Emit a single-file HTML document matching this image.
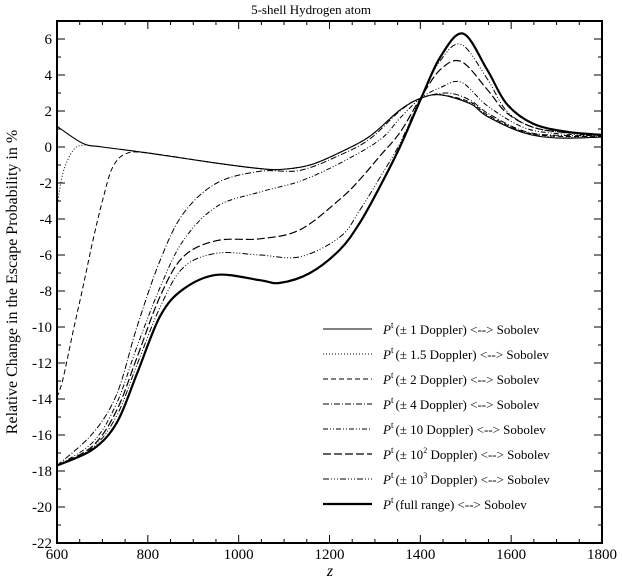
<!DOCTYPE html>
<html><head><meta charset="utf-8"><style>
body{margin:0;background:#fff}
svg{display:block;font-family:"Liberation Serif",serif}
</style></head><body>
<svg id="c" width="622" height="580"></svg>
<script>
const xTicks=[600,800,1000,1200,1400,1600,1800];
const yTicks=[-22,-20,-18,-16,-14,-12,-10,-8,-6,-4,-2,0,2,4,6];
const z1=[600,657,700,805,952,1047,1091,1157,1223,1289,1355,1400,1444,1510,1547,1626,1700,1800];
const s1=[1.15,0.2,0.0,-0.35,-0.9,-1.2,-1.25,-1.0,-0.3,0.6,2.05,2.7,2.9,2.4,1.7,0.8,0.5,0.55];
const z2=[600,613,635,657,700,805,952,1047,1091,1157,1223,1289,1355,1400,1444,1510,1547,1626,1700,1800];
const s2=[-3.3,-1.45,-0.2,0.1,0.0,-0.35,-0.9,-1.2,-1.25,-1.0,-0.3,0.6,2.05,2.7,2.9,2.45,1.75,0.85,0.55,0.6];
const z3=[600,613,635,657,679,701,723,754,805,952,1047,1091,1157,1223,1289,1355,1400,1444,1510,1547,1626,1700,1800];
const s3=[-13.9,-12.9,-10.3,-7.8,-5.2,-2.9,-1.1,-0.35,-0.35,-0.9,-1.2,-1.25,-1.0,-0.3,0.6,2.05,2.7,2.9,2.5,1.8,0.85,0.6,0.6];
const z4=[600,679,732,776,827,878,952,1047,1135,1223,1289,1355,1400,1460,1510,1547,1626,1700,1800];
const s4=[-17.7,-15.9,-13.7,-10,-6.3,-3.7,-2.0,-1.35,-1.3,-0.45,0.45,2.0,2.7,3.0,2.6,1.9,0.9,0.65,0.65];
const z5=[600,679,732,776,827,878,952,1047,1135,1223,1311,1355,1400,1444,1490,1547,1626,1700,1800];
const s5=[-17.7,-16.4,-14.2,-11.1,-7.8,-5.2,-3.3,-2.5,-1.9,-0.9,0.4,1.6,2.7,3.3,3.6,2.3,1.1,0.75,0.65];
const z6=[600,679,732,776,827,878,952,1047,1135,1223,1267,1311,1355,1400,1444,1490,1547,1590,1648,1720,1800];
const s6=[-17.7,-16.6,-14.6,-11.7,-8.3,-6.1,-5.2,-5.1,-4.6,-2.9,-1.8,-0.5,0.8,2.7,4.3,4.75,3.2,1.9,1.1,0.8,0.7];
const z7=[600,679,732,776,827,878,952,1047,1135,1223,1267,1311,1355,1400,1444,1490,1547,1590,1648,1720,1800];
const s7=[-17.7,-16.7,-14.9,-12.1,-8.9,-6.7,-5.9,-6.0,-6.1,-5.0,-3.5,-1.7,0.2,2.7,4.8,5.7,3.8,2.0,1.1,0.8,0.7];
const z8=[600,679,732,776,827,878,952,1047,1091,1157,1223,1267,1311,1355,1400,1444,1494,1547,1590,1648,1722,1800];
const s8=[-17.7,-16.8,-15.3,-12.6,-9.4,-7.9,-7.1,-7.4,-7.55,-7.0,-5.7,-4.2,-2.2,0.0,2.6,5.0,6.3,4.3,2.4,1.3,0.85,0.67];
const labels=["(\u00b1 1 Doppler) <--> Sobolev","(\u00b1 1.5 Doppler) <--> Sobolev","(\u00b1 2 Doppler) <--> Sobolev","(\u00b1 4 Doppler) <--> Sobolev","(\u00b1 10 Doppler) <--> Sobolev","(\u00b1 10^2 Doppler) <--> Sobolev","(\u00b1 10^3 Doppler) <--> Sobolev","(full range) <--> Sobolev"];
const L=57,R=602,T=21,B=543;
const X=v=>L+(v-600)/1200*(R-L);
const Y=v=>T+(7-v)/29*(B-T);
const NS="http://www.w3.org/2000/svg";
const svg=document.getElementById('c');
function mk(t,a,p){const e=document.createElementNS(NS,t);for(const k in a)e.setAttribute(k,a[k]);(p||svg).appendChild(e);return e;}
const styles=[
 {w:1.1,d:""},{w:1,d:"1,2"},{w:1,d:"5,3"},{w:1,d:"6,2,1,2"},{w:1,d:"5,2,1,2,1,2"},{w:1.2,d:"8,3"},{w:1,d:"6,2,1,2,1,2,1,2"},{w:2.2,d:""}];
const series=[[z1,s1],[z2,s2],[z3,s3],[z4,s4],[z5,s5],[z6,s6],[z7,s7],[z8,s8]];
function pathD(xs,ys){const p=xs.map((x,i)=>[X(x),Y(ys[i])]);let d="M"+p[0][0]+","+p[0][1];
 for(let i=0;i<p.length-1;i++){const p0=p[i-1]||p[i],p1=p[i],p2=p[i+1],p3=p[i+2]||p2;
  const c1=[p1[0]+(p2[0]-p0[0])/6,p1[1]+(p2[1]-p0[1])/6],c2=[p2[0]-(p3[0]-p1[0])/6,p2[1]-(p3[1]-p1[1])/6];
  d+=" C"+c1+" "+c2+" "+p2;}return d;}
const ti=mk('text',{x:311,y:14,'text-anchor':'middle','font-size':13});ti.textContent="5-shell Hydrogen atom";


const g=mk('g',{});


series.forEach((s,i)=>{const p=mk('path',{d:pathD(s[0],s[1]),fill:'none',stroke:'#000','stroke-width':styles[i].w,'stroke-dasharray':styles[i].d},g);
 
 });
const fr=mk('rect',{x:L,y:T,width:R-L,height:B-T,fill:'none',stroke:'#000','stroke-width':2});


for(let v=600;v<=1800;v+=50){const maj=v%200===0,len=maj?8:4,x=X(v);
 mk('line',{x1:x,x2:x,y1:B,y2:B-len,stroke:'#000','stroke-width':1});
 mk('line',{x1:x,x2:x,y1:T,y2:T+len,stroke:'#000','stroke-width':1});}
xTicks.forEach(v=>{const t=mk('text',{x:X(v),y:B+16,'text-anchor':'middle','font-size':15});t.textContent=v;
 
 });
for(let v=-22;v<=7;v+=1){const maj=v%2===0,len=maj?8:4,y=Y(v);
 mk('line',{x1:L,x2:L+len,y1:y,y2:y,stroke:'#000','stroke-width':1});
 mk('line',{x1:R,x2:R-len,y1:y,y2:y,stroke:'#000','stroke-width':1});}
yTicks.forEach(v=>{const t=mk('text',{x:L-5,y:Y(v)+5,'text-anchor':'end','font-size':15});t.textContent=v;
 
 });
const xl=mk('text',{x:330,y:576,'text-anchor':'middle','font-size':16,'font-style':'italic'});xl.textContent="z";


const yl=mk('text',{x:0,y:0,'text-anchor':'middle','font-size':16,transform:'translate(17,282) rotate(-90)'});yl.textContent="Relative Change in the Escape Probability in %";


const lg=mk('g',{});


labels.forEach((lab,i)=>{const y=329+i*25.0;
 const e=mk('g',{},lg);
 
 
 mk('line',{x1:323,x2:372,y1:y,y2:y,stroke:'#000','stroke-width':styles[i].w,'stroke-dasharray':styles[i].d},e);
 const t=mk('text',{x:383,y:y+5,'font-size':13},e);
 const a=mk('tspan',{'font-style':'italic'},t);a.textContent="P";
 const b=mk('tspan',{dy:-6,'font-size':9},t);b.textContent="t";
 const m=lab.match(/\^(\d)/);
 if(m){const parts=lab.split('^'+m[1]);
  const c=mk('tspan',{dy:6,dx:2},t);c.textContent=parts[0];
  const d=mk('tspan',{dy:-6,'font-size':8},t);d.textContent=m[1];
  const f=mk('tspan',{dy:6},t);f.textContent=parts[1];}
 else{const c=mk('tspan',{dy:6,dx:2},t);c.textContent=lab;}
});
</script>
</body></html>
